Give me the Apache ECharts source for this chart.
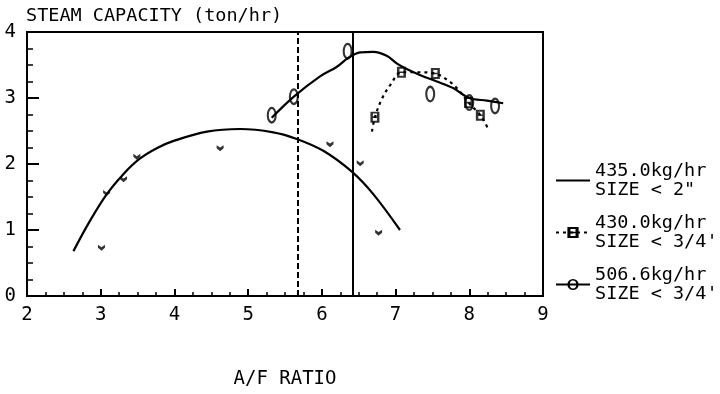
<!DOCTYPE html>
<html>
<head>
<meta charset="utf-8">
<script src="https://cdn.jsdelivr.net/npm/echarts@6/dist/echarts.min.js"></script>
<style>html,body{margin:0;padding:0;background:#fff;}#c{width:720px;height:394px;}</style>
</head>
<body>
<div id="c"></div>
<script>
// ---- data ----
const xTickValues = [2, 3, 4, 5, 6, 7, 8, 9];
const yTickValues = [0, 1, 2, 3, 4];
const seriesNames = ['435.0kg/hr\nSIZE < 2"', "430.0kg/hr\nSIZE < 3/4'", "506.6kg/hr\nSIZE < 3/4'"];

// 435.0 kg/hr, size < 2"  (fitted curve + measured points)
const curve435 = [[2.63,0.68],[2.85,1.13],[3.08,1.54],[3.31,1.85],[3.53,2.08],[3.76,2.24],[3.99,2.35],[4.44,2.49],[4.89,2.53],[5.34,2.48],[5.66,2.38],[6.02,2.20],[6.41,1.88],[6.70,1.54],[7.06,1.00]];
const points435 = [[3.01,0.73],[3.08,1.56],[3.31,1.77],[3.49,2.11],[4.62,2.24],[6.11,2.30],[6.52,2.01],[6.77,0.96]];

// 430.0 kg/hr, size < 3/4'
const curve430 = [[6.68,2.49],[6.72,2.71],[6.82,3.00],[6.93,3.20],[7.08,3.39],[7.30,3.39],[7.54,3.37],[7.72,3.26],[7.84,3.14],[7.99,2.93],[8.15,2.74],[8.26,2.52]];
const points430 = [[6.72,2.71],[7.08,3.39],[7.54,3.37],[7.99,2.93],[8.15,2.74]];

// 506.6 kg/hr, size < 3/4'
const curve506 = [[5.32,2.70],[5.62,3.02],[5.98,3.33],[6.20,3.47],[6.36,3.61],[6.52,3.69],[6.70,3.70],[6.88,3.64],[7.02,3.52],[7.15,3.44],[7.33,3.35],[7.56,3.25],[7.78,3.15],[8.00,3.00],[8.24,2.96],[8.46,2.92]];
const points506 = [[5.32,2.74],[5.62,3.02],[6.35,3.71],[7.47,3.06],[8.00,2.93],[8.35,2.88]];

// vertical reference lines (A/F ratio)
const dashedRefX = 5.67;
const solidRefX = 6.42;

// ---- styling ----
const FONT = 'DejaVu Sans Mono';
const symV = 'path://M0,0L3,2L6,0L6,2.5L3,5L0,2.5Z';
const symBox = 'path://M0,0H8V10H0Z M2.2,1.8V4.3H5.8V1.8Z M2.2,5.7V8.2H5.8V5.7Z';
const symOval = 'path://M5,0A5,8,0,1,1,5,16A5,8,0,1,1,5,0Z M5,2.2A2.9,5.8,0,1,0,5,13.8A2.9,5.8,0,1,0,5,2.2Z';

const chart = echarts.init(document.getElementById('c'), null, {renderer: 'canvas'});
chart.setOption({
  backgroundColor: '#fff',
  animation: false,
  title: {
    text: 'STEAM CAPACITY (ton/hr)',
    left: 21, top: 2,
    textStyle: {fontFamily: FONT, fontSize: 18.5, fontWeight: 'normal', color: '#000'}
  },
  grid: {left: 27, right: 177, top: 32, bottom: 89, show: true, borderColor: '#000', borderWidth: 2},
  xAxis: {
    type: 'value', min: xTickValues[0], max: xTickValues[xTickValues.length - 1], interval: 1,
    name: 'A/F RATIO', nameLocation: 'middle', nameGap: 74,
    nameTextStyle: {fontFamily: FONT, fontSize: 19, color: '#000'},
    axisLine: {lineStyle: {color: '#000', width: 2}},
    axisTick: {inside: true, length: 7, lineStyle: {color: '#000', width: 2}},
    minorTick: {show: true, splitNumber: 4, length: 4, lineStyle: {color: '#000', width: 1.5}},
    splitLine: {show: false},
    axisLabel: {fontFamily: FONT, fontSize: 19, color: '#000', margin: 10}
  },
  yAxis: {
    type: 'value', min: yTickValues[0], max: yTickValues[yTickValues.length - 1], interval: 1,
    axisLine: {show: true, lineStyle: {color: '#000', width: 2}},
    axisTick: {show: true, inside: true, length: 12, lineStyle: {color: '#000', width: 2}},
    minorTick: {show: true, splitNumber: 4, length: 6, lineStyle: {color: '#000', width: 1.5}},
    splitLine: {show: false},
    axisLabel: {fontFamily: FONT, fontSize: 19, color: '#000', margin: 11}
  },
  legend: {
    orient: 'vertical', left: 550, top: 147,
    itemWidth: 34, itemHeight: 14, itemGap: -5,
    textStyle: {fontFamily: FONT, fontSize: 18.5, lineHeight: 19, color: '#000', padding: [19, 0, 0, 0]},
    data: [
      {name: seriesNames[0], itemStyle: {opacity: 0}},
      {name: seriesNames[1]},
      {name: seriesNames[2]}
    ]
  },
  series: [
    {
      name: seriesNames[0], type: 'line', data: curve435, smooth: 0.35, showSymbol: false, symbol: symV,
      lineStyle: {color: '#000', width: 2.2}, itemStyle: {color: '#000'},
      markLine: {
        symbol: 'none', silent: true, label: {show: false},
        data: [
          {xAxis: dashedRefX, lineStyle: {color: '#000', type: [6, 3], width: 2}},
          {xAxis: solidRefX, lineStyle: {color: '#000', type: 'solid', width: 2}}
        ]
      }
    },
    {
      name: seriesNames[1], type: 'line', data: curve430, smooth: 0.35, showSymbol: false, symbol: symBox,
      lineStyle: {color: '#000', width: 2.2, type: [3, 4]}, itemStyle: {color: '#000'}
    },
    {
      name: seriesNames[2], type: 'line', data: curve506, smooth: 0.35, showSymbol: false, symbol: symOval, symbolKeepAspect: true,
      lineStyle: {color: '#000', width: 2.2}, itemStyle: {color: '#000'}
    },
    {type: 'scatter', data: points435, symbol: symV, symbolSize: [7, 6], itemStyle: {color: '#000'}},
    {type: 'scatter', data: points430, symbol: symBox, symbolSize: [9, 11], itemStyle: {color: '#000'}},
    {type: 'scatter', data: points506, symbol: symOval, symbolSize: [10, 17], itemStyle: {color: '#000'}}
  ]
});
</script>
</body>
</html>
